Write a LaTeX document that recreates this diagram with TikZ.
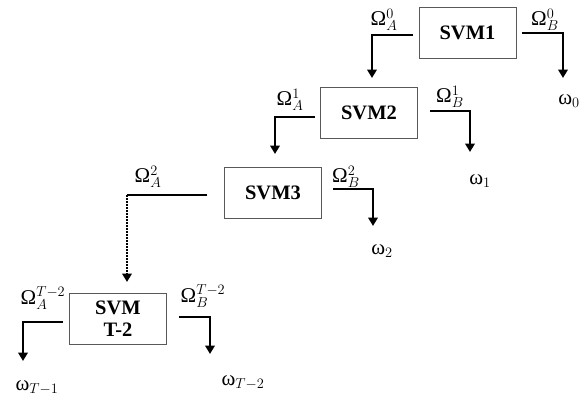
\documentclass[tikz,border=0pt]{standalone}
\usepackage{fontspec}
\setmainfont{Liberation Serif}
\usetikzlibrary{arrows.meta}
\begin{document}
\begin{tikzpicture}[x=1pt,y=-1pt,
  svm/.style={draw=gray!70!black, line width=0.8pt, minimum width=97pt, minimum height=51pt,
    font=\fontsize{20.5}{21}\selectfont\bfseries, inner sep=0pt, align=center},
  br/.style={line width=2.6pt, -{Triangle[width=9.5pt,length=8.5pt]}},
  dotbr/.style={br, dash pattern=on 1.6pt off 1.4pt},
  lab/.style={font=\fontsize{21}{23}\selectfont, inner sep=0pt}]
\useasboundingbox (0,0) rectangle (584,399);

% boxes
\node[svm] (s1) at (467.5,32.5) {SVM1};
\node[svm] (s2) at (369,112.5) {SVM2};
\node[svm] (s3) at (273,192.5) {SVM3};
\node[svm, font=\fontsize{20.5}{22}\selectfont\bfseries] (s4) at (118,319) {SVM\\T-2};

% branch coordinates
\coordinate (a1s) at (413,35);  \coordinate (a1e) at (372,78);
\coordinate (b1s) at (522,33);  \coordinate (b1e) at (563,78);
\coordinate (a2s) at (315,117); \coordinate (a2e) at (275,154);
\coordinate (b2s) at (430,111); \coordinate (b2e) at (470,152);
\coordinate (a3s) at (207,195); \coordinate (a3e) at (127,282);
\coordinate (b3s) at (333,189); \coordinate (b3e) at (373,226);
\coordinate (a4s) at (63,322);  \coordinate (a4e) at (23,361);
\coordinate (b4s) at (179,317); \coordinate (b4e) at (210,354);

% connectors
\draw[br] (a1s) -| (a1e);
\draw[br] (b1s) -| (b1e);
\draw[br] (a2s) -| (a2e);
\draw[br] (b2s) -| (b2e);
\draw[line width=2.6pt] (a3s) -- (a3s -| a3e) coordinate (a3c);
\draw[dotbr] (a3c) -- (a3e);
\draw[br] (b3s) -| (b3e);
\draw[br] (a4s) -| (a4e);
\draw[br] (b4s) -| (b4e);

% labels
\node[lab] (la1) at (384,20) {Ω$^{0}_{A}$};
\node[lab] (lb1) at (545,20) {Ω$^{0}_{B}$};
\node[lab] (w0)  at (569,101) {ω$_{0}$};
\node[lab] (la2) at (290,100) {Ω$^{1}_{A}$};
\node[lab] (lb2) at (450,97) {Ω$^{1}_{B}$};
\node[lab] (w1)  at (480,181) {ω$_{1}$};
\node[lab] (la3) at (148,177) {Ω$^{2}_{A}$};
\node[lab] (lb3) at (346,177) {Ω$^{2}_{B}$};
\node[lab] (w2)  at (382,251) {ω$_{2}$};
\node[lab] (la4) at (43,298) {Ω$^{T-2}_{A}$};
\node[lab] (lb4) at (203,296) {Ω$^{T-2}_{B}$};
\node[lab] (w4)  at (37,388) {ω$_{T-1}$};
\node[lab] (w3)  at (243,383) {ω$_{T-2}$};
\end{tikzpicture}
\end{document}
